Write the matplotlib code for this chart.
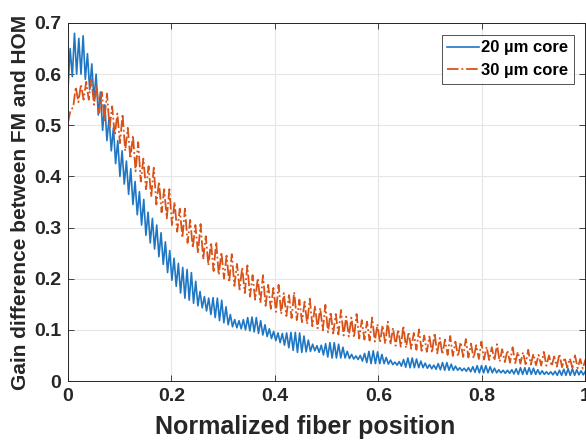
import numpy as np
import matplotlib
matplotlib.use("Agg")
import matplotlib.pyplot as plt
from matplotlib.ticker import FuncFormatter

# 20 um core: lower / upper turning points of the oscillating gain difference
core20_low = [0.57, 0.595, 0.60, 0.60, 0.59, 0.57, 0.55, 0.52, 0.49, 0.47,
              0.45, 0.425, 0.40, 0.385, 0.365, 0.345, 0.325, 0.305, 0.285, 0.27,
              0.258, 0.243, 0.228, 0.212, 0.197, 0.185, 0.172, 0.162, 0.158, 0.152,
              0.147, 0.143, 0.137, 0.13, 0.124, 0.118, 0.114, 0.11, 0.106, 0.104,
              0.102, 0.10, 0.098, 0.096, 0.093, 0.09, 0.087, 0.083, 0.079, 0.075,
              0.07, 0.065, 0.06, 0.056, 0.056, 0.057, 0.058, 0.059, 0.056, 0.051,
              0.047, 0.045, 0.045, 0.045, 0.045, 0.044, 0.043, 0.042, 0.039, 0.036,
              0.034, 0.034, 0.034, 0.034, 0.033, 0.032, 0.031, 0.029, 0.027, 0.026,
              0.026, 0.026, 0.026, 0.025, 0.024, 0.023, 0.022, 0.021, 0.021, 0.021,
              0.021, 0.02, 0.019, 0.018, 0.017, 0.016, 0.016, 0.016, 0.016, 0.016,
              0.016, 0.015, 0.015, 0.014, 0.013, 0.013, 0.013, 0.013, 0.013, 0.013,
              0.013, 0.013, 0.012, 0.011, 0.011, 0.011, 0.011, 0.011, 0.012, 0.012]
core20_high = [0.65, 0.68, 0.67, 0.675, 0.64, 0.62, 0.60, 0.565, 0.54, 0.515,
               0.495, 0.47, 0.45, 0.43, 0.415, 0.39, 0.37, 0.355, 0.33, 0.318,
               0.305, 0.29, 0.272, 0.255, 0.24, 0.23, 0.222, 0.218, 0.212, 0.195,
               0.175, 0.165, 0.162, 0.163, 0.162, 0.158, 0.145, 0.13, 0.12, 0.118,
               0.12, 0.124, 0.125, 0.124, 0.118, 0.11, 0.102, 0.097, 0.094, 0.093,
               0.094, 0.095, 0.095, 0.094, 0.088, 0.08, 0.072, 0.069, 0.07, 0.073,
               0.075, 0.075, 0.072, 0.066, 0.058, 0.052, 0.049, 0.05, 0.054, 0.058,
               0.059, 0.057, 0.052, 0.046, 0.041, 0.037, 0.038, 0.042, 0.045, 0.045,
               0.043, 0.039, 0.035, 0.032, 0.031, 0.034, 0.036, 0.036, 0.033, 0.029,
               0.026, 0.025, 0.026, 0.028, 0.03, 0.03, 0.03, 0.028, 0.025, 0.022,
               0.021, 0.021, 0.022, 0.024, 0.026, 0.026, 0.026, 0.025, 0.022, 0.02,
               0.018, 0.018, 0.019, 0.021, 0.023, 0.024, 0.024, 0.022, 0.02, 0.019]

# 30 um core: lower / upper turning points
core30_low = [0.505, 0.535, 0.545, 0.55, 0.55, 0.54, 0.525, 0.51, 0.495, 0.48,
              0.465, 0.45, 0.435, 0.41, 0.39, 0.375, 0.36, 0.345, 0.33, 0.318,
              0.305, 0.292, 0.28, 0.27, 0.26, 0.25, 0.238, 0.226, 0.215, 0.207,
              0.20, 0.193, 0.186, 0.179, 0.172, 0.165, 0.159, 0.153, 0.147, 0.141,
              0.135, 0.131, 0.127, 0.123, 0.119, 0.115, 0.111, 0.107, 0.103, 0.099,
              0.095, 0.093, 0.091, 0.089, 0.087, 0.085, 0.083, 0.081, 0.079, 0.077,
              0.075, 0.073, 0.071, 0.069, 0.067, 0.065, 0.063, 0.061, 0.059, 0.057,
              0.055, 0.054, 0.052, 0.051, 0.049, 0.048, 0.047, 0.046, 0.044, 0.043,
              0.042, 0.041, 0.04, 0.038, 0.037, 0.036, 0.035, 0.034, 0.033, 0.032,
              0.031, 0.03, 0.03, 0.029, 0.028, 0.027, 0.026, 0.026, 0.025, 0.024]
core30_high = [0.53, 0.575, 0.58, 0.585, 0.59, 0.578, 0.565, 0.562, 0.537, 0.523,
               0.522, 0.495, 0.48, 0.467, 0.435, 0.42, 0.417, 0.39, 0.375, 0.375,
               0.35, 0.337, 0.337, 0.315, 0.305, 0.307, 0.283, 0.271, 0.272, 0.252,
               0.245, 0.248, 0.229, 0.222, 0.226, 0.207, 0.201, 0.207, 0.188, 0.182,
               0.188, 0.172, 0.168, 0.174, 0.159, 0.155, 0.161, 0.147, 0.143, 0.149,
               0.135, 0.131, 0.139, 0.126, 0.124, 0.131, 0.119, 0.116, 0.124, 0.111,
               0.109, 0.116, 0.104, 0.101, 0.108, 0.096, 0.094, 0.101, 0.089, 0.087,
               0.094, 0.084, 0.081, 0.088, 0.077, 0.076, 0.082, 0.073, 0.07, 0.077,
               0.067, 0.066, 0.072, 0.062, 0.06, 0.066, 0.057, 0.056, 0.061, 0.053,
               0.051, 0.057, 0.05, 0.048, 0.053, 0.046, 0.044, 0.05, 0.043, 0.042]

series_labels = ["20 \u00b5m core", "30 \u00b5m core"]
xticks = [0, 0.2, 0.4, 0.6, 0.8, 1]
yticks = [0, 0.1, 0.2, 0.3, 0.4, 0.5, 0.6, 0.7]


def zigzag(low, high):
    # alternate trough, peak, trough, ... along the normalized fiber length
    y = np.column_stack([low, high]).ravel()
    x = np.linspace(0, 1, len(y))
    return x, y


plt.rcParams['font.family'] = ['Liberation Sans', 'DejaVu Sans']
plt.rcParams['font.weight'] = 'bold'

fig = plt.figure(figsize=(5.86, 4.42), dpi=100)
ax = fig.add_axes([0.116, 0.138, 0.883, 0.810])

x20, y20 = zigzag(core20_low, core20_high)
x30, y30 = zigzag(core30_low, core30_high)
ax.plot(x20, y20, color='#1f77c4', lw=1.2, label=series_labels[0])
ax.plot(x30, y30, color='#D95319', lw=1.3, ls='-.', label=series_labels[1])

ax.set_xlim(0, 1)
ax.set_ylim(0, 0.7)
ax.set_xticks(xticks)
ax.set_yticks(yticks)
fmt = FuncFormatter(lambda v, p: f"{v:g}")
ax.xaxis.set_major_formatter(fmt)
ax.yaxis.set_major_formatter(fmt)
ax.tick_params(direction='in', length=4, width=0.6, colors='#262626',
               labelsize=14, top=True, right=True, pad=5)
ax.grid(True, color='#e6e6e6', lw=0.8)
ax.set_axisbelow(True)
for s in ax.spines.values():
    s.set_color('#262626')
    s.set_linewidth(0.7)

ax.set_xlabel('Normalized fiber position', fontsize=18, fontweight='bold',
              color='#262626')
ax.xaxis.set_label_coords(0.458, -0.095)
ax.set_ylabel('Gain difference between FM and HOM', fontsize=15,
              fontweight='bold', color='#262626', labelpad=3)

leg = ax.legend(loc='upper right', fontsize=12, frameon=True, fancybox=False,
                edgecolor='#262626', borderaxespad=0.7, handlelength=1.9,
                handletextpad=0.1, borderpad=0.35, labelspacing=0.45)
leg.get_frame().set_linewidth(0.7)
for t in leg.get_texts():
    t.set_fontweight('bold')

fig.savefig('out.png', dpi=100)
